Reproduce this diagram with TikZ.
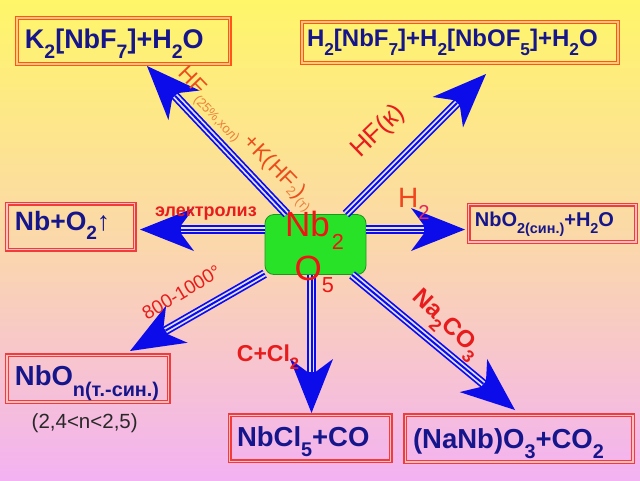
\documentclass[tikz,border=0pt]{standalone}
\usepackage{fontspec}
\setmainfont{Liberation Sans}
\usetikzlibrary{arrows.meta}
\definecolor{navy}{RGB}{22,22,140}
\definecolor{ablue}{RGB}{12,12,235}
\definecolor{ainner}{RGB}{225,225,255}
\definecolor{lred}{RGB}{232,28,28}
\definecolor{nbred}{RGB}{240,20,20}
\definecolor{hfred}{RGB}{236,76,28}
\definecolor{hforange}{RGB}{236,128,60}
\definecolor{h2red}{RGB}{240,70,30}
\definecolor{h2sub}{RGB}{228,40,90}
\definecolor{bor}{RGB}{255,85,25}
\definecolor{borin}{RGB}{255,200,120}
\definecolor{bred}{RGB}{240,60,60}
\definecolor{bredin}{RGB}{255,190,190}
\definecolor{gfill}{RGB}{40,226,40}
\definecolor{gdraw}{RGB}{30,150,30}
\definecolor{bgtop}{RGB}{255,246,105}
\definecolor{bgmid}{RGB}{251,216,170}
\definecolor{bgbot}{RGB}{243,178,242}
\definecolor{rangegray}{RGB}{40,40,40}
\newcommand\dn[2][0.36em]{\raisebox{-#1}{\scalebox{0.72}{#2}}}
\newcommand\sm[2]{\raisebox{-#1}{\textcolor{hforange}{\fontsize{13}{14}\selectfont #2}}}
\begin{document}
\begin{tikzpicture}[x=1pt,y=-1pt,
  pbox/.style={rectangle, line width=1.4pt, double distance=1.3pt, inner xsep=#1, inner ysep=0pt, align=left, text=navy, text depth=5pt},
  obox/.style={pbox=#1, draw=bor, double=borin},
  rbox/.style={pbox=#1, draw=bred, double=bredin},
  bigarrow/.style={draw=ablue, line width=9pt,
    -{Stealth[length=54pt,width=43pt,inset=16pt,line width=0pt]},
    postaction={draw=ainner, line width=5.5pt, -, shorten >=41pt},
    postaction={draw=ablue, line width=2pt, -, shorten >=41pt}},
  lab/.style={inner sep=0pt, text=lred}]
\shade[top color=bgtop, bottom color=bgbot, middle color=bgmid] (0,0) rectangle (640,480);
% product boxes
\node[obox=8pt, minimum width=212.7pt, minimum height=46pt, text width=196.7pt, text height=19.6pt,
  font=\bfseries\fontsize{27}{30}\selectfont] (bK) at (123.3,41) {K\dn{2}[NbF\dn{7}]+H\dn{2}O};
\node[obox=5pt, minimum width=316pt, minimum height=41pt, text width=306pt, text height=13.4pt,
  font=\bfseries\fontsize{24}{27}\selectfont] (bH) at (460,42.5) {H\dn{2}[NbF\dn{7}]+H\dn{2}[NbOF\dn{5}]+H\dn{2}O};
\node[rbox=8pt, minimum width=127.7pt, minimum height=46pt, text width=111.7pt, text height=11.6pt,
  font=\bfseries\fontsize{26.5}{29}\selectfont] (bNb) at (70.8,226.7) {Nb+O\dn{2}{\mdseries ↑}};
\node[rbox=6.3pt, minimum width=167.3pt, minimum height=37.3pt, text width=154.7pt, text height=11.8pt,
  font=\bfseries\fontsize{20}{23}\selectfont] (bNbO) at (552.3,223.3) {NbO\dn{2(син.)}+H\dn{2}O};
\node[rbox=8pt, minimum width=161.7pt, minimum height=46.7pt, text width=145.7pt, text height=17.6pt,
  font=\bfseries\fontsize{27.5}{30}\selectfont] (bNbOn) at (87.8,378.7) {NbO\dn[0.42em]{n(т.-син.)}};
\node[rbox=7.3pt, minimum width=161pt, minimum height=46pt, text width=146.4pt, text height=21.8pt,
  font=\bfseries\fontsize{27.5}{30}\selectfont] (bCl) at (310.2,438.3) {NbCl\dn{5}+CO};
\node[rbox=7.7pt, minimum width=227.7pt, minimum height=46.7pt, text width=212.3pt, text height=24.2pt,
  font=\bfseries\fontsize{27.5}{30}\selectfont] (bNa) at (519.2,438.7) {(NaNb)O\dn{3}+CO\dn{2}};
\node[anchor=base west, inner sep=0pt, text=rangegray, font=\fontsize{20.5}{22}\selectfont] (nrange) at (31.5,428) {(2,4<n<2,5)};
% central box
\node[draw=gdraw, fill=gfill, rounded corners=9pt, minimum width=101pt, minimum height=60pt, line width=0.8pt, inner sep=0pt] (c) at (315.5,244.5) {};
% arrow tips on the product boxes
\coordinate (tK) at (147,66);
\coordinate (tH) at (486,74);
\coordinate (tL) at (140,229.5);
\coordinate (tR) at (465,229.5);
\coordinate (tDL) at (130,351);
\coordinate (tD) at (311.5,413);
\coordinate (tDR) at (515,410);
\draw[bigarrow] (c) -- (tK);
\draw[bigarrow] (c) -- (tH);
\draw[bigarrow] (c.west |- tL) -- (tL);
\draw[bigarrow] (c.east |- tR) -- (tR);
\draw[bigarrow] (c) -- (tDL);
\draw[bigarrow] (c.south -| tD) -- (tD);
\draw[bigarrow] (c) -- (tDR);
% central formula
\node[anchor=base west, inner sep=0pt, text=nbred, font=\fontsize{35}{36}\selectfont] (nb) at (285,236.7) {Nb\hspace{2pt}\raisebox{-13pt}{\scalebox{0.62}{2}}};
\node[anchor=base west, inner sep=0pt, text=nbred, font=\fontsize{35}{36}\selectfont] (o5) at (294.5,280) {O\raisebox{-12pt}{\scalebox{0.62}{5}}};
% labels
\node[lab, text=hfred, rotate=-46, font=\fontsize{22}{24}\selectfont] (lHF) at (245,140)
  {HF\sm{6pt}{(25\%,хол)} +K(HF\sm{3pt}{2})\sm{4pt}{(т)}};
\node[lab, rotate=44, font=\fontsize{26}{28}\selectfont] (lHFk) at (378.5,131.5) {HF(к)};
\node[lab, anchor=base west, text=h2red, font=\fontsize{28}{30}\selectfont] (lH2) at (398,207) {H\textcolor{h2sub}{\dn[0.45em]{2}}};
\node[lab, anchor=base west, font=\bfseries\fontsize{18}{20}\selectfont] (lel) at (155,216) {электролиз};
\node[lab, rotate=31, font=\fontsize{19}{21}\selectfont] (l800) at (181.5,292.5) {800-1000°};
\node[lab, anchor=base west, font=\bfseries\fontsize{23}{25}\selectfont] (lC) at (236.7,361.7) {C+Cl\dn{2}};
\node[lab, rotate=-44, font=\bfseries\fontsize{24}{26}\selectfont] (lNa) at (445.5,325.5) {Na\dn{2}CO\dn{3}};
\end{tikzpicture}
\end{document}
